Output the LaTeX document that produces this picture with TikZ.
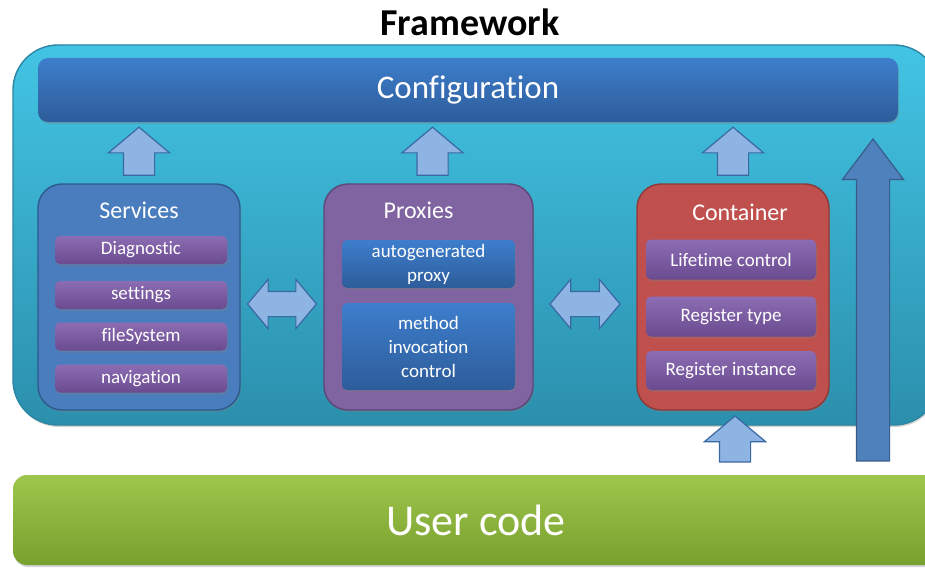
\documentclass[tikz,border=0pt]{standalone}
\usepackage{fontspec}
\setmainfont{Carlito}[Ligatures=NoCommon]
\usetikzlibrary{calc,shapes.arrows,shadows}

\definecolor{frametop}{HTML}{43C4E4}
\definecolor{framebot}{HTML}{2B8FAD}
\definecolor{frameline}{HTML}{2A86A2}
\definecolor{conftop}{HTML}{3D7ECC}
\definecolor{confbot}{HTML}{2D5C9A}
\definecolor{arrowfill}{HTML}{8EB4E3}
\definecolor{arrowline}{HTML}{3A68A3}
\definecolor{bigfill}{HTML}{4F81BD}
\definecolor{bigline}{HTML}{385D8A}
\definecolor{svcfill}{HTML}{4A7DBE}
\definecolor{svcline}{HTML}{2D5A8D}
\definecolor{prxfill}{HTML}{8064A2}
\definecolor{prxline}{HTML}{5C4778}
\definecolor{ctnfill}{HTML}{C0504D}
\definecolor{ctnline}{HTML}{8C3A38}
\definecolor{purtop}{HTML}{8C6CB2}
\definecolor{purbot}{HTML}{6A4B90}
\definecolor{usertop}{HTML}{9FC64C}
\definecolor{userbot}{HTML}{77A02E}

\tikzset{
  softshadow/.style={drop shadow={opacity=0.35,shadow xshift=1pt,shadow yshift=-2pt}},
  groupbox/.style={draw, line width=1.4pt, rounded corners=24pt, minimum height=226pt, inner sep=0pt, softshadow},
  grouptitle/.style={text=white, font=\fontsize{24}{28}\selectfont, inner sep=0pt},
  itembox/.style={rounded corners=5pt, text=white, font=\fontsize{19}{24}\selectfont, align=center, inner sep=0pt, softshadow},
  puritem/.style={itembox, top color=purtop, bottom color=purbot, minimum width=172pt, minimum height=28pt},
  bluitem/.style={itembox, top color=conftop, bottom color=confbot, minimum width=173pt},
  ctnitem/.style={itembox, top color=purtop, bottom color=purbot, minimum width=170pt, minimum height=40pt},
  uparrow/.style={single arrow, draw=arrowline, fill=arrowfill, line width=1.2pt, rotate=90,
    minimum height=48pt, single arrow head extend=15pt, single arrow tip angle=100, inner xsep=0pt, inner ysep=15pt},
  twoway/.style={double arrow, draw=arrowline, fill=arrowfill, line width=1.2pt,
    minimum height=69pt, double arrow head extend=12pt, double arrow tip angle=100, inner xsep=0pt, inner ysep=12pt}
}

\begin{document}
\begin{tikzpicture}[x=1pt,y=-1pt]
  \useasboundingbox (0,0) rectangle (925,567);
  %%%%% START %%%%%
  \node[font=\bfseries\fontsize{38}{44}\selectfont] (title) at (470,22) {Framework};

  \node[draw=frameline, line width=1.4pt, top color=frametop, bottom color=framebot, rounded corners=45pt,
    minimum width=926pt, minimum height=380pt, softshadow] (frame) at (476,235) {};

  \node[top color=conftop, bottom color=confbot, rounded corners=10pt, minimum width=860pt, minimum height=64pt,
    text=white, font=\fontsize{33}{38}\selectfont, softshadow] (config) at (468,90) {Configuration};

  % services
  \node[groupbox, draw=svcline, fill=svcfill, minimum width=202pt] (services) at (139,297) {};
  \node[grouptitle] (svctitle) at ([yshift=-27pt]services.north) {Services};
  \node[puritem] (diag) at (141,250) {Diagnostic};
  \node[puritem] (settings) at (141,295) {settings};
  \node[puritem] (filesys) at (141,336.5) {fileSystem};
  \node[puritem] (navig) at (141,378.5) {navigation};

  % proxies
  \node[groupbox, draw=prxline, fill=prxfill, minimum width=209pt] (proxies) at (428.5,297) {};
  \node[grouptitle] (prxtitle) at ([xshift=-10pt,yshift=-27pt]proxies.north) {Proxies};
  \node[bluitem, minimum height=48pt] (autogen) at (428.5,264) {autogenerated\\proxy};
  \node[bluitem, minimum height=87pt] (invoke) at (428.5,346.5) {method\\invocation\\control};

  % container
  \node[groupbox, draw=ctnline, fill=ctnfill, minimum width=192pt] (container) at (733,297) {};
  \node[grouptitle] (ctntitle) at ([xshift=7pt,yshift=-29pt]container.north) {Container};
  \node[ctnitem] (lifetime) at (731,259.5) {Lifetime control};
  \node[ctnitem] (regtype) at (731,316.5) {Register type};
  \node[ctnitem, minimum height=39pt] (reginst) at (731,370.5) {Register instance};

  % user code
  \node[top color=usertop, bottom color=userbot, rounded corners=14pt, minimum width=926pt, minimum height=90pt,
    text=white, font=\fontsize{44}{50}\selectfont, softshadow] (user) at (476,520) {User code};

  % arrows
  \node[uparrow] (upsvc) at ([yshift=-5pt]$(services.north)!0.5!(services.north |- config.south)$) {};
  \node[uparrow] (upprx) at ([xshift=4pt,yshift=-5pt]$(proxies.north)!0.5!(proxies.north |- config.south)$) {};
  \node[uparrow] (upctn) at ([yshift=-5pt]$(container.north)!0.5!(container.north |- config.south)$) {};
  \node[uparrow, minimum height=46pt] (upuser) at ([xshift=2pt,yshift=-6pt]$(container.south)!0.45!(container.south |- user.north)$) {};
  \node[twoway] (svcprx) at ([yshift=-7pt]$(services.east)!0.5!(proxies.west)$) {};
  \node[twoway, minimum height=70pt] (prxctn) at ([yshift=-7pt]$(proxies.east)!0.5!(container.west)$) {};
  \node[single arrow, draw=bigline, fill=bigfill, line width=1.2pt, rotate=90, minimum height=322pt,
    single arrow head extend=14pt, single arrow tip angle=74, inner xsep=0pt, inner ysep=16pt] (bigup) at (873,311) {};
  %%%%% END %%%%%
\end{tikzpicture}
\end{document}
